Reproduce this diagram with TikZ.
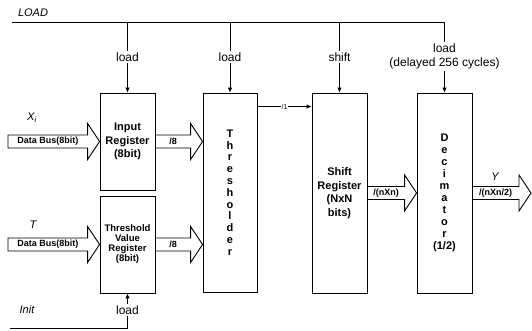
\documentclass[tikz,border=0pt]{standalone}
\usepackage{fontspec}
\setmainfont{Liberation Sans}
\usetikzlibrary{arrows.meta,calc}

\tikzset{
  reg/.style={draw, line width=0.9pt, minimum width=55pt, align=center,
    inner sep=1pt, font=\bfseries\fontsize{11}{13.5}\selectfont},
  ctl/.style={align=center, inner sep=1.5pt, font=\fontsize{12}{13.5}\selectfont},
  sig/.style={inner sep=0pt, font=\itshape\fontsize{11}{12}\selectfont},
  bus/.style={draw, line width=0.9pt, fill=white},
  buslabel/.style={inner sep=0pt, font=\bfseries\fontsize{9}{9}\selectfont},
  wire/.style={line width=0.8pt},
  arr/.style={wire, -{Latex[length=5pt,width=4.5pt]}}
}

% wide bus arrow: start, tip, label
\newcommand{\busarrow}[3]{%
  \path (#2) ++(-12,0) coordinate (hb);
  \draw[bus] ($(#1)+(0,-6.5)$) -- ($(hb)+(0,-6.5)$) -- ($(hb)+(0,-18)$)
    -- (#2) -- ($(hb)+(0,18)$) -- ($(hb)+(0,6.5)$) -- ($(#1)+(0,6.5)$) -- cycle;
  \node[buslabel] at ($(#1)!0.5!(hb)$) {#3};}

\begin{document}
\begin{tikzpicture}[x=1pt, y=-1pt]
  \useasboundingbox (0,0) rectangle (532,331);

  % registers and blocks
  \node[reg, minimum height=97pt] (inreg) at (127.5,141.5)
    {Input\\Register\\(8bit)};
  \node[reg, minimum height=97pt, font=\bfseries\fontsize{9.5}{10}\selectfont]
    (thrreg) at (127.5,244.5) {Threshold\\Value\\Register\\(8bit)};
  \node[reg, minimum width=54pt, minimum height=199pt,
    font=\bfseries\fontsize{11}{11.8}\selectfont]
    (thresh) at (230,192.5) {T\\h\\r\\e\\s\\h\\o\\l\\d\\e\\r};
  \node[reg, minimum height=200pt] (shreg) at (339.5,193)
    {Shift\\Register\\(NxN\\bits)};
  \node[reg, minimum height=200pt, font=\bfseries\fontsize{11}{12}\selectfont]
    (decim) at (444.5,193) {D\\e\\c\\i\\m\\a\\t\\o\\r\\(1/2)};

  % control labels
  \node[sig] (load) at (33,13) {LOAD};
  \node[ctl] (lda) at (127.5,57) {load};
  \node[ctl] (ldb) at (230,57) {load};
  \node[ctl] (ldc) at (339.5,57) {shift};
  \node[ctl] (ldd) at (444.5,56.5) {load\\(delayed 256 cycles)};
  \node[sig] (init) at (27,310) {Init};
  \node[ctl] (lde) at (127.5,310) {load};

  % LOAD bus
  \coordinate (busL) at (12,22);
  \draw[wire] (busL) -| (ldd.north);
  \draw[wire] (busL -| lda) -- (lda.north);
  \draw[wire] (busL -| ldb) -- (ldb.north);
  \draw[wire] (busL -| ldc) -- (ldc.north);
  \draw[arr] (lda.south) -- (inreg.north);
  \draw[arr] (ldb.south) -- (thresh.north);
  \draw[arr] (ldc.south) -- (shreg.north);
  \draw[arr] (ldd.south) -- (decim.north);

  % Init
  \coordinate (initL) at (10,328);
  \draw[wire] (initL) -| (lde.south);
  \draw[arr] (lde.north) -- (thrreg.south);

  % data buses
  \coordinate (xin) at (8,141.5);
  \coordinate (tin) at (8,244.5);
  \coordinate (yout) at (531,193);
  \busarrow{xin}{inreg.west}{Data Bus(8bit)}
  \busarrow{tin}{thrreg.west}{Data Bus(8bit)}
  \busarrow{inreg.east}{thresh.west |- inreg.east}{/8}
  \busarrow{thrreg.east}{thresh.west |- thrreg.east}{/8}
  \busarrow{shreg.east}{decim.west}{/(nXn)}
  \busarrow{decim.east}{yout}{/(nXn/2)}
  \node[sig] (xi) at (32,118) {X\textsubscript{\itshape i}};
  \node[sig] (tv) at (33,225) {T};
  \node[sig] (yv) at (495,177) {Y};

  % one-bit output of the thresholder
  \coordinate (t1) at ($(thresh.north east)+(0,14)$);
  \draw[arr] (t1) -- (t1 -| shreg.west)
    node[midway, fill=white, inner sep=1pt, font=\fontsize{7}{8}\selectfont] {/1};
\end{tikzpicture}
\end{document}
